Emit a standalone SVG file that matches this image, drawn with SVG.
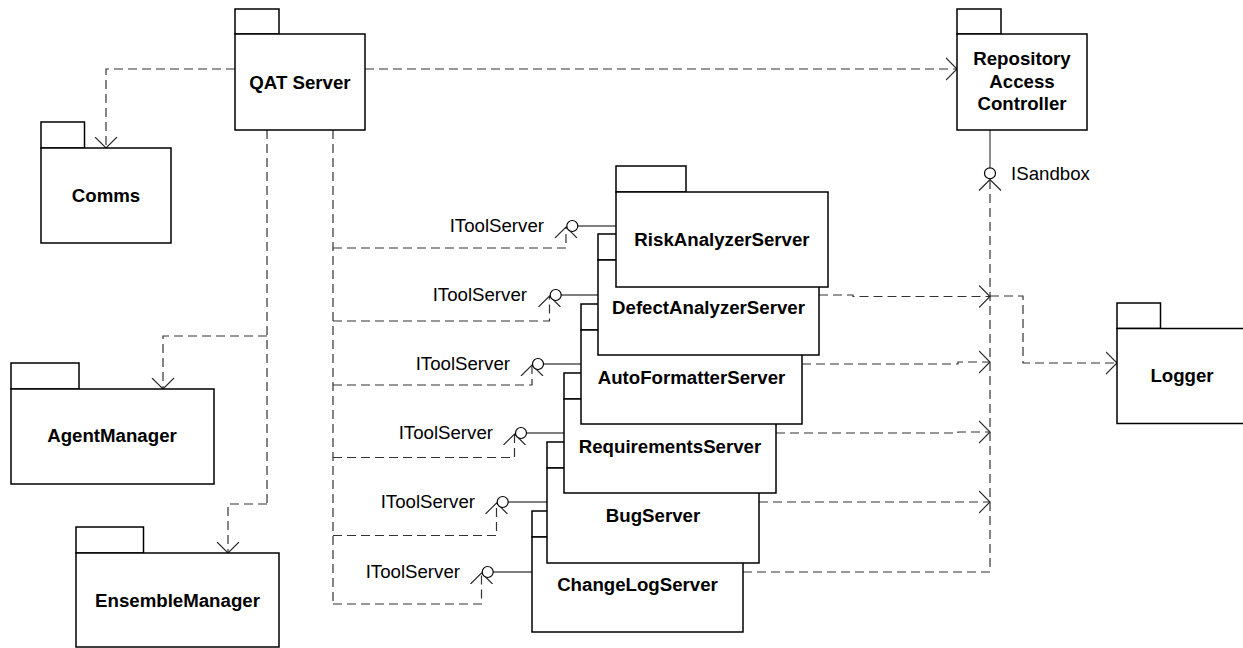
<svg xmlns="http://www.w3.org/2000/svg" width="1243" height="648" viewBox="0 0 1243 648">
<style>
.box{fill:#fff;stroke:#000;stroke-width:1.5}
.dep{fill:none;stroke:#333;stroke-width:1.2;stroke-dasharray:9,5;marker-end:url(#arr)}
.dep2{fill:none;stroke:#333;stroke-width:1.2;stroke-dasharray:9,5}
.sol{fill:none;stroke:#000;stroke-width:1}
.ball{fill:#fff;stroke:#000;stroke-width:1.2}
.nm{font-family:"Liberation Sans",Arial,sans-serif;font-size:18.67px;font-weight:bold;text-anchor:middle;fill:#000}
.lb{font-family:"Liberation Sans",Arial,sans-serif;font-size:18.67px;fill:#000}
</style>
<defs>
<marker id="arr" viewBox="0 0 12 24" refX="11" refY="12" markerWidth="12" markerHeight="24" markerUnits="userSpaceOnUse" orient="auto">
<path d="M0,1 L11,12 L0,23" fill="none" stroke="#222" stroke-width="1.1"/>
</marker>
</defs>
<rect width="1243" height="648" fill="#fff"/>
<g id="connectors">
<path class="dep" d="M235,69 H106 V148"/>
<path class="dep" d="M365,69 H957"/>
<path class="dep2" d="M267,130 V504"/>
<path class="dep" d="M267,336 H163 V389"/>
<path class="dep" d="M267,504 H228 V553"/>
<path class="dep2" d="M333,130 V604"/>
<path class="dep" d="M333,248 H566 V227"/>
<path class="dep" d="M333,321 H549.5 V296"/>
<path class="dep" d="M333,385 H532 V365"/>
<path class="dep" d="M333,457.5 H514.5 V434"/>
<path class="dep" d="M333,535.5 H496.5 V503"/>
<path class="dep" d="M333,604 H481.5 V573"/>
<path class="sol" d="M578,226 H616"/>
<path class="sol" d="M561,295 H598"/>
<path class="sol" d="M543.5,364 H581"/>
<path class="sol" d="M526.5,433 H564"/>
<path class="sol" d="M508,502 H547"/>
<path class="sol" d="M493,572 H532"/>
<path class="dep" d="M819,295 H853 V296.5 H990"/>
<path class="dep" d="M990,296 H1023 V363 H1117"/>
<path class="dep" d="M802,364 H958 V362 H990"/>
<path class="dep" d="M776,433 H958 V432 H990"/>
<path class="dep" d="M759,502 H990"/>
<path class="dep" d="M743,572 H990 V179.5"/>
<path d="M990,130 V167.8" fill="none" stroke="#404040" stroke-width="1.2"/>
</g>
<g id="interfaces">
<circle class="ball" cx="572.3" cy="226" r="5.5"/>
<text class="lb" x="544" y="232" text-anchor="end">IToolServer</text>
<circle class="ball" cx="555.7" cy="295" r="5.5"/>
<text class="lb" x="527" y="301" text-anchor="end">IToolServer</text>
<circle class="ball" cx="538" cy="364" r="5.5"/>
<text class="lb" x="510" y="370" text-anchor="end">IToolServer</text>
<circle class="ball" cx="521" cy="433" r="5.5"/>
<text class="lb" x="493" y="439" text-anchor="end">IToolServer</text>
<circle class="ball" cx="502.7" cy="502" r="5.5"/>
<text class="lb" x="475" y="508" text-anchor="end">IToolServer</text>
<circle class="ball" cx="487.7" cy="572" r="5.5"/>
<text class="lb" x="460" y="578" text-anchor="end">IToolServer</text>
<circle class="ball" cx="990" cy="173.3" r="5.5"/>
<text class="lb" x="1011" y="180">ISandbox</text>
</g>
<g id="qat-server">
<rect class="box" x="235" y="9" width="44" height="25"/>
<rect class="box" x="235" y="34" width="130" height="96"/>
<text class="nm" x="300" y="88.5">QAT Server</text>
</g>
<g id="comms">
<rect class="box" x="41" y="122" width="43.5" height="26"/>
<rect class="box" x="41" y="148" width="130" height="95"/>
<text class="nm" x="106" y="201.5">Comms</text>
</g>
<g id="repository-access-controller">
<rect class="box" x="957" y="9" width="44" height="25"/>
<rect class="box" x="957" y="34" width="130" height="96"/>
<text class="nm" x="1022" y="65">Repository</text>
<text class="nm" x="1022" y="87.5">Access</text>
<text class="nm" x="1022" y="110">Controller</text>
</g>
<g id="agent-manager">
<rect class="box" x="11" y="363" width="68" height="26"/>
<rect class="box" x="11" y="389" width="203" height="95"/>
<text class="nm" x="112" y="442">AgentManager</text>
</g>
<g id="ensemble-manager">
<rect class="box" x="76" y="527" width="67.5" height="26"/>
<rect class="box" x="76" y="553" width="203" height="94"/>
<text class="nm" x="177.5" y="607">EnsembleManager</text>
</g>
<g id="logger">
<rect class="box" x="1117" y="303" width="43.5" height="25.5"/>
<rect class="box" x="1117" y="328.5" width="130" height="95"/>
<text class="nm" x="1182" y="382">Logger</text>
</g>
<g id="changelog-server">
<rect class="box" x="532" y="511" width="70" height="26"/>
<rect class="box" x="532" y="537" width="211" height="95"/>
<text class="nm" x="637.5" y="590.5">ChangeLogServer</text>
</g>
<g id="bug-server">
<rect class="box" x="547" y="442" width="70" height="26"/>
<rect class="box" x="547" y="468" width="212" height="95"/>
<text class="nm" x="653" y="521.5">BugServer</text>
</g>
<g id="requirements-server">
<rect class="box" x="564" y="373" width="70" height="26"/>
<rect class="box" x="564" y="399" width="212" height="94"/>
<text class="nm" x="670" y="452.5">RequirementsServer</text>
</g>
<g id="autoformatter-server">
<rect class="box" x="581" y="304" width="72" height="26"/>
<rect class="box" x="581" y="330" width="221" height="94"/>
<text class="nm" x="691.5" y="383.5">AutoFormatterServer</text>
</g>
<g id="defectanalyzer-server">
<rect class="box" x="598" y="234" width="72" height="26"/>
<rect class="box" x="598" y="260" width="221" height="95"/>
<text class="nm" x="708.5" y="314">DefectAnalyzerServer</text>
</g>
<g id="riskanalyzer-server">
<rect class="box" x="616" y="166" width="70" height="26"/>
<rect class="box" x="616" y="192" width="212" height="95"/>
<text class="nm" x="722" y="246">RiskAnalyzerServer</text>
</g>
</svg>
